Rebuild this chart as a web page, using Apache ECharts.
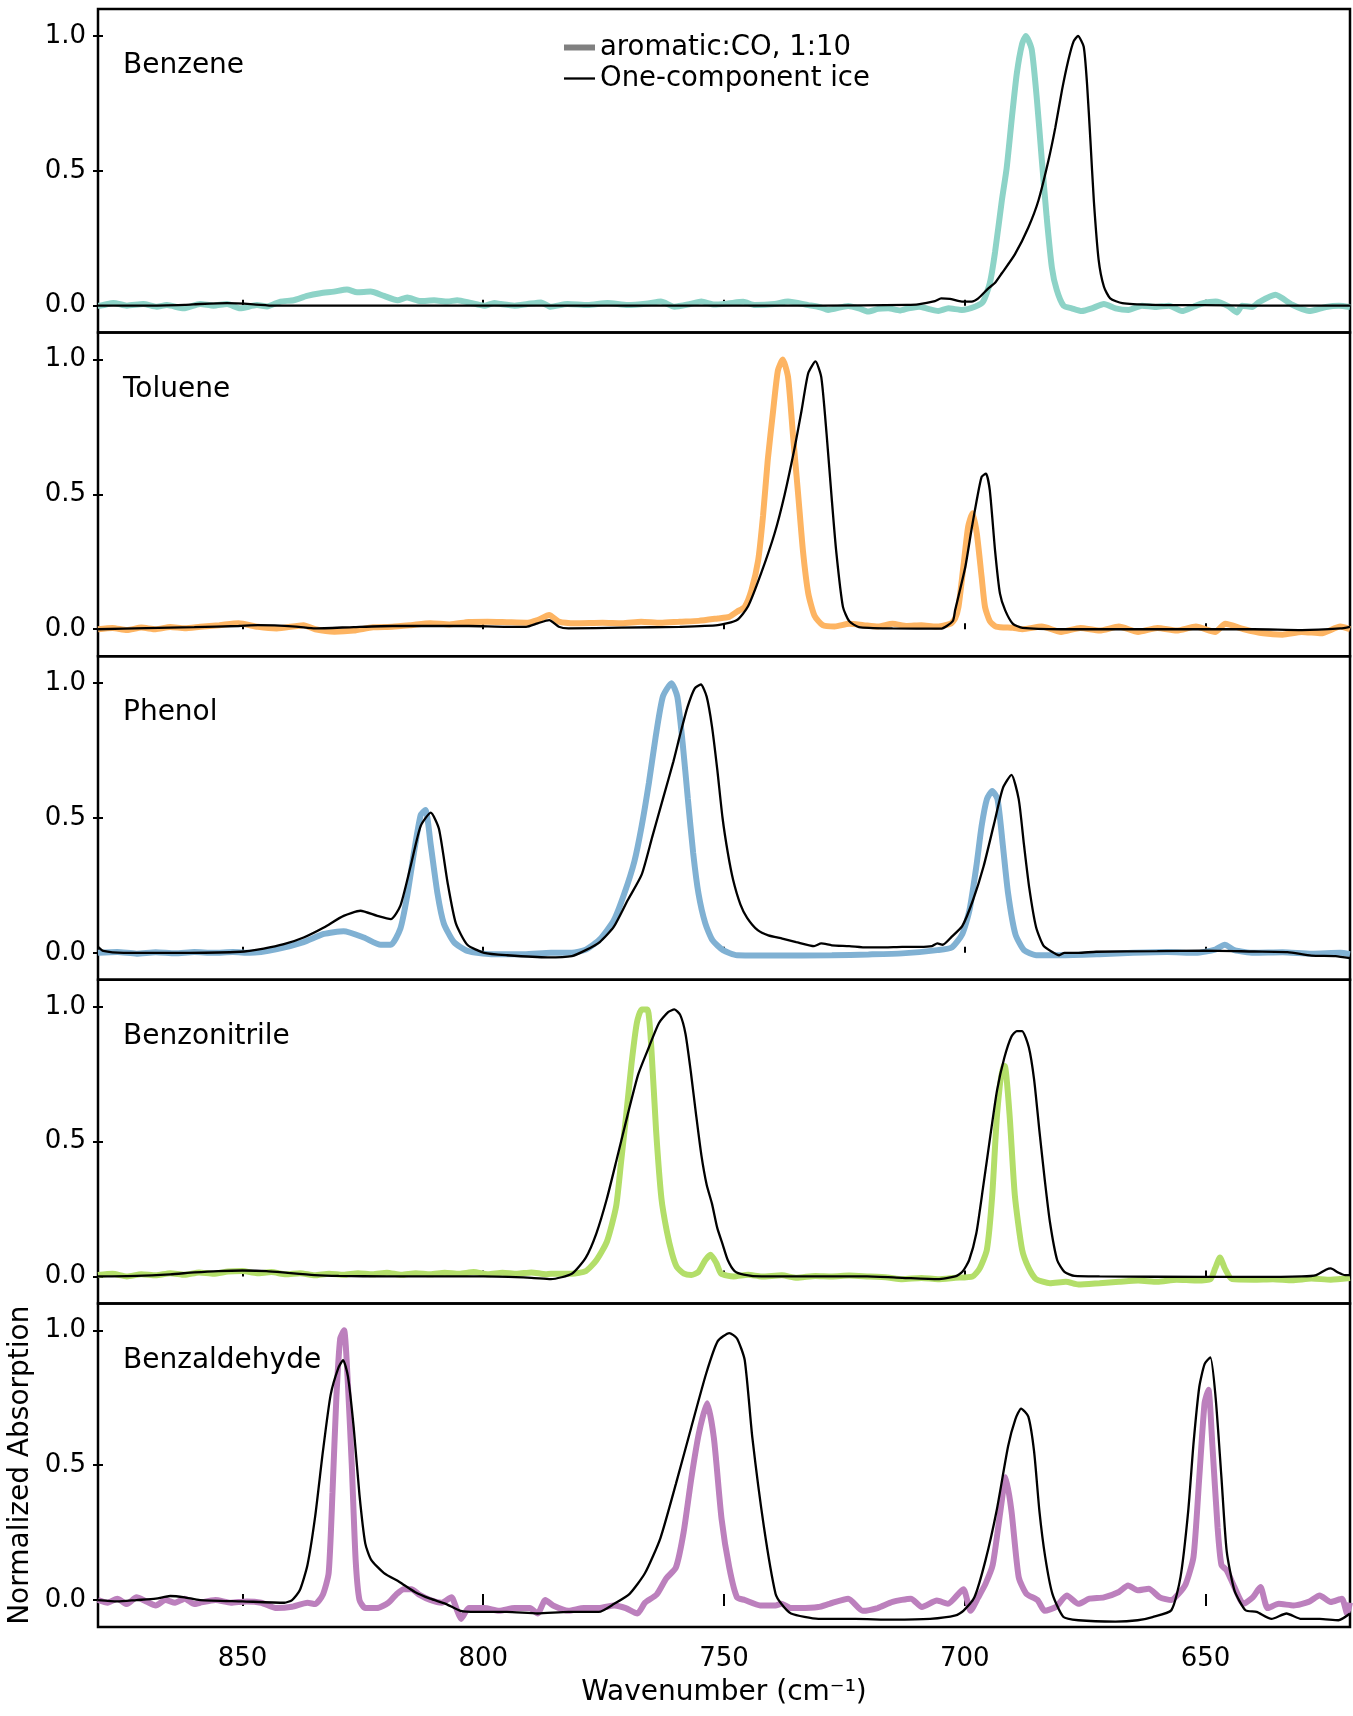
<!DOCTYPE html>
<html><head><meta charset="utf-8">
<script src="https://cdn.jsdelivr.net/npm/echarts@6/dist/echarts.min.js"></script>
<style>html,body{margin:0;padding:0;background:#fff}#c{width:1353px;height:1716px}</style>
</head><body><div id="c"></div>
<script>
const xTicks=[850,800,750,700,650];
const yTicks=[0,0.5,1.0];
const panelNames=['Benzene','Toluene','Phenol','Benzonitrile','Benzaldehyde'];
const mixColors=['#8dd3c7','#fdb462','#80b1d3','#b3de69','#bc80bd'];
const legendNames=['aromatic:CO, 1:10','One-component ice'];

const benzeneMix=[[880,0.0],[879.6,0.0],[876.8,0.01],[874,0.0],[870.6,0.006],[867.8,-0.004],[865.7,0.002],[862.2,-0.01],[858.8,0.006],[856,0.0],[853.2,0.006],[850.5,-0.01],[847,0.002],[844.9,-0.003],[842.1,0.015],[839.4,0.02],[836.6,0.036],[833.8,0.046],[831,0.052],[828.3,0.06],[826.2,0.05],[823.4,0.052],[820.6,0.036],[817.8,0.02],[815.8,0.03],[813,0.017],[810.2,0.02],[807.4,0.015],[805.4,0.02],[802.6,0.01],[799.8,0.0],[797.7,0.01],[796.4,0.006],[793.5,0.0],[790.8,0.006],[788,0.012],[786,-0.004],[782.5,0.006],[778.3,0.002],[774.2,0.01],[770,0.002],[765.8,0.008],[763.1,0.015],[760.3,-0.004],[757,0.006],[754.7,0.015],[752,0.004],[749.2,0.008],[746,0.014],[743.6,0.002],[739.5,0.006],[736.7,0.015],[732.5,0.002],[730,-0.006],[728.4,-0.016],[724.2,-0.001],[722,-0.01],[720.1,-0.022],[718,-0.012],[715.9,-0.01],[713.5,-0.018],[711.7,-0.01],[709.5,-0.004],[707.6,-0.012],[705.5,-0.02],[703.4,-0.01],[700.6,-0.016],[697.9,-0.004],[696.2,0.015],[694.8,0.083],[693.7,0.2],[692.3,0.39],[691.3,0.51],[690.2,0.7],[689.2,0.86],[688.1,0.97],[687.3,1.0],[686.1,0.95],[685,0.76],[684,0.54],[683,0.33],[681.9,0.14],[680.9,0.058],[679.5,0.0],[677.8,-0.01],[675.7,-0.02],[673.6,-0.01],[671.1,0.006],[668.7,-0.01],[666,-0.016],[663.2,0.0],[660.4,-0.005],[657.6,0.0],[654.9,-0.02],[652.5,-0.004],[650.7,0.008],[647.9,0.015],[645.2,-0.003],[643.5,-0.025],[642.4,0.0],[640.3,-0.005],[638.9,0.013],[635.5,0.04],[632,0.003],[628.5,-0.02],[625,-0.005],[622.3,0.0],[620,-0.005]];
const benzeneIce=[[880,0.0],[870,0.0],[862,0.003],[858.8,0.006],[853.2,0.009],[847.7,0.005],[843.5,0.0],[830,0.0],[800,0.0],[760,0.0],[730,0.0],[712,0.003],[709.7,0.005],[706.2,0.017],[704.9,0.027],[703.1,0.025],[700.6,0.015],[698.6,0.015],[697.2,0.027],[695.1,0.064],[693.7,0.085],[692.3,0.12],[689.6,0.19],[686.8,0.29],[684.7,0.39],[682.6,0.54],[681.2,0.66],[679.8,0.8],[678.5,0.91],[677.4,0.98],[676.5,1.0],[675.3,0.96],[674.6,0.82],[673.9,0.61],[673.2,0.39],[672.2,0.17],[671.1,0.07],[669.8,0.027],[667.3,0.009],[661.1,0.003],[650.7,0.002],[640.3,0.0],[630,0.0],[620,0.0]];

const tolueneMix=[[880,0.0],[877,0.005],[874,-0.003],[871,0.006],[868,0.0],[865,0.008],[862,0.004],[858.8,0.009],[854.8,0.015],[850.8,0.022],[846.8,0.009],[842.9,0.003],[837.3,0.015],[834.9,0.0],[830.9,-0.009],[826.9,-0.005],[822.9,0.007],[818.9,0.009],[815,0.015],[811,0.022],[807,0.018],[803,0.027],[799.1,0.028],[795.1,0.026],[791.1,0.024],[788.7,0.034],[786.3,0.053],[784.3,0.028],[780.7,0.022],[775.2,0.024],[771.2,0.022],[767.2,0.028],[763.2,0.024],[759.2,0.028],[755.3,0.031],[751.3,0.04],[748.9,0.046],[747.3,0.065],[745.7,0.083],[744.3,0.145],[742.9,0.256],[741.9,0.42],[740.9,0.63],[739.8,0.81],[738.8,0.96],[737.8,1.0],[736.7,0.935],[735.7,0.725],[734.6,0.5],[733.6,0.29],[732.5,0.133],[731.2,0.05],[729.5,0.015],[727,0.01],[724,0.02],[721,0.015],[718,0.01],[715,0.02],[712,0.012],[709,0.015],[706,0.01],[703,0.02],[702,0.04],[701.3,0.083],[700.3,0.23],[699.3,0.38],[698.4,0.43],[697.5,0.355],[696.5,0.194],[695.8,0.083],[694.8,0.03],[693.5,0.01],[690,0.005],[688,0.0],[684,0.01],[680,-0.01],[676,0.005],[672,-0.005],[668,0.01],[664,-0.01],[660,0.005],[656,-0.005],[652,0.01],[648,-0.01],[645.9,0.02],[642,0.0],[638,-0.015],[634,-0.02],[630,-0.01],[626,-0.015],[622,0.01],[620,0.0]];
const tolueneIce=[[880,0.0],[870,0.004],[860,0.008],[850.8,0.012],[846.8,0.015],[838.9,0.01],[834.9,0.003],[826.9,0.008],[818.9,0.012],[803,0.012],[795.1,0.009],[791.1,0.009],[788.7,0.022],[786.3,0.034],[784.3,0.009],[782.3,0.003],[771.2,0.006],[759.2,0.009],[751.3,0.015],[747.3,0.034],[745,0.085],[742.3,0.207],[739.5,0.355],[737.4,0.5],[735.3,0.676],[733.9,0.81],[732.5,0.95],[731,0.993],[729.8,0.935],[728.7,0.725],[727.7,0.5],[726.7,0.29],[725.3,0.083],[724,0.03],[722,0.008],[715,0.003],[705,0.002],[702.5,0.03],[702,0.071],[699.9,0.23],[698.6,0.37],[697.5,0.48],[696.5,0.565],[695.6,0.577],[694.8,0.515],[693.7,0.29],[692.7,0.133],[691.6,0.07],[690,0.02],[688,0.005],[680,0.0],[660,0.0],[640,0.0],[630,-0.003],[622,0.003],[620,0.009]];

const phenolMix=[[880,0.0],[876,0.003],[872,-0.003],[868,0.002],[864,-0.002],[860,0.003],[856,0.0],[852,0.003],[848.4,0.0],[842.8,0.014],[837.3,0.04],[833.1,0.07],[829,0.08],[824.8,0.057],[821.3,0.03],[819.2,0.03],[817.2,0.09],[815.8,0.21],[814.4,0.37],[813,0.51],[812,0.53],[810.9,0.4],[809.5,0.22],[808.2,0.11],[806.1,0.04],[803.3,0.007],[798.4,-0.005],[791.5,-0.005],[785.95,0.0],[781.6,0.0],[778.7,0.012],[775.8,0.05],[772.9,0.12],[770.7,0.22],[768.6,0.34],[767.1,0.47],[765.6,0.63],[764.2,0.8],[762.7,0.95],[760.9,1.0],[759.7,0.95],[758.6,0.78],[757.5,0.57],[756.4,0.37],[755.3,0.22],[753.9,0.11],[752.4,0.047],[750.2,0.01],[747.3,-0.009],[740,-0.01],[727.6,-0.009],[720,-0.006],[713,-0.002],[705.7,0.01],[702.7,0.02],[700.5,0.07],[699,0.16],[697.6,0.32],[696.5,0.47],[695.4,0.57],[694.3,0.6],[693.2,0.57],[692.1,0.4],[691,0.22],[689.5,0.07],[687.7,0.01],[685.2,-0.009],[680.1,-0.009],[672,-0.005],[665,0.0],[658,0.003],[652,0.0],[648,0.012],[646,0.03],[644,0.01],[640,0.0],[634,0.002],[628,-0.003],[622,0.0],[620,-0.005]];
const phenolIce=[[880,0.022],[878.9,0.007],[874.7,0.0],[860.9,0.0],[850.5,0.004],[845.6,0.016],[841.4,0.032],[837.3,0.057],[833.1,0.094],[829,0.137],[825.5,0.156],[822,0.137],[819.2,0.125],[817.2,0.175],[815.1,0.32],[813,0.47],[810.9,0.52],[809.2,0.46],[807.4,0.26],[805.7,0.11],[803.3,0.03],[799.8,0.0],[795,-0.009],[786.6,-0.017],[781.6,-0.012],[778.7,0.01],[775.8,0.04],[772.9,0.096],[770,0.195],[767.1,0.29],[764.9,0.43],[762.7,0.57],[760.5,0.71],[759.1,0.81],[757.6,0.91],[756.1,0.98],[754.8,0.995],[753.6,0.95],[752.5,0.84],[751.4,0.68],[750.3,0.5],[749.2,0.37],[748.1,0.27],[746.6,0.18],[745.2,0.13],[743,0.084],[740.8,0.065],[737.9,0.053],[735,0.04],[731.3,0.025],[729.8,0.035],[727.6,0.028],[724,0.025],[720.3,0.02],[716.6,0.02],[713,0.022],[709.3,0.022],[706.8,0.025],[705.7,0.035],[704.6,0.03],[702.7,0.06],[700.5,0.1],[698.3,0.195],[696.1,0.32],[693.9,0.48],[692.1,0.61],[690.3,0.66],[688.8,0.57],[687.7,0.4],[686.6,0.24],[685.2,0.096],[683.7,0.028],[681.9,0.004],[680.4,-0.009],[679.3,0.0],[676.4,0.0],[672.7,0.004],[660,0.006],[650,0.008],[640,0.005],[633,0.003],[628,-0.01],[623,-0.012],[620,-0.02]];

const benzonitrileMix=[[880,0.005],[877,0.01],[874,0.0],[871,0.008],[868,0.004],[865,0.012],[862,0.006],[859,0.015],[856,0.01],[853,0.018],[850,0.02],[847,0.012],[844,0.016],[841,0.008],[838,0.012],[835,0.004],[832,0.01],[829,0.006],[826,0.012],[823,0.008],[820,0.014],[817,0.006],[814,0.012],[811,0.008],[808,0.014],[805,0.01],[802,0.016],[799,0.008],[796,0.014],[793,0.01],[790,0.015],[787,0.008],[785.95,0.01],[781.6,0.01],[778.7,0.02],[776.5,0.06],[774.3,0.13],[772.4,0.26],[771.4,0.42],[770.3,0.6],[769.2,0.79],[768.1,0.94],[767.1,0.99],[765.9,0.99],[765.1,0.85],[764.1,0.54],[763,0.29],[761.9,0.17],[760.8,0.085],[759.8,0.035],[758.3,0.01],[756.8,0.005],[755.3,0.017],[753.9,0.06],[752.8,0.08],[751.6,0.05],[750.6,0.01],[748,0.0],[745,0.006],[742.2,0.0],[738,0.004],[734.9,-0.005],[731,0.002],[727.6,0.0],[724,0.003],[720.3,0.0],[716,-0.004],[713,-0.01],[709,-0.006],[705.6,-0.01],[702,-0.005],[698.4,0.0],[696.9,0.03],[695.4,0.1],[694.3,0.3],[693.3,0.6],[692.1,0.78],[691.7,0.78],[690.7,0.6],[689.6,0.3],[688.1,0.1],[686.7,0.03],[685.2,-0.01],[682.3,-0.025],[679,-0.02],[676.4,-0.03],[672,-0.025],[668,-0.02],[664,-0.015],[660,-0.02],[656,-0.012],[652,-0.015],[649,-0.01],[648,0.03],[647,0.07],[646,0.03],[644.5,-0.01],[640,-0.012],[636,-0.01],[632,-0.014],[628,-0.008],[624,-0.012],[620,-0.006]];
const benzonitrileIce=[[880,0.0],[872,0.002],[865,0.008],[860,0.015],[855,0.02],[850,0.022],[845,0.02],[840,0.012],[835,0.005],[830,0.002],[820,0.0],[800,0.0],[790,-0.005],[785.95,-0.01],[781.6,0.01],[778.7,0.07],[776.5,0.16],[774.3,0.29],[772.2,0.44],[770,0.6],[767.8,0.75],[765.6,0.85],[763.5,0.94],[761.6,0.98],[760.3,0.99],[759.1,0.97],[758,0.9],[756.9,0.76],[755.8,0.6],[754.7,0.45],[753.6,0.34],[752.5,0.27],[751.4,0.18],[750.3,0.12],[749.2,0.06],[747.8,0.02],[745.9,0.007],[742.2,0.0],[720.3,0.0],[713,-0.005],[705.6,-0.01],[702,0.0],[700.5,0.017],[699.1,0.06],[697.6,0.16],[696.2,0.33],[694.7,0.52],[693.3,0.69],[691.8,0.81],[690.3,0.89],[689.2,0.91],[688.1,0.91],[686.7,0.85],[685.6,0.73],[684.5,0.54],[683.4,0.36],[682.3,0.2],[680.8,0.06],[679.3,0.017],[677.2,0.002],[672,0.0],[650,-0.002],[640,-0.002],[630,0.0],[627,0.005],[625,0.025],[624,0.03],[622.5,0.015],[621,0.005],[620,0.005]];

const benzaldehydeMix=[[880,0.0],[878,-0.01],[876,0.005],[874,-0.015],[872,0.01],[870,-0.005],[868,-0.02],[866,0.0],[864,-0.01],[862,0.005],[860,-0.015],[858.8,-0.01],[855.6,0.0],[852.4,-0.01],[849.2,-0.005],[846.1,-0.01],[842.9,-0.03],[839.7,-0.025],[836.5,-0.01],[834.9,-0.015],[833.3,0.02],[832.1,0.1],[831.3,0.4],[830.5,0.75],[829.7,0.97],[828.9,1.0],[828.1,0.8],[827.3,0.5],[826.5,0.15],[825.7,0.0],[824.5,-0.03],[822.1,-0.03],[819.7,-0.01],[818.1,0.02],[816.5,0.04],[814.9,0.04],[813.3,0.02],[811,0.0],[808.6,-0.01],[806.6,0.01],[805.4,-0.04],[804.6,-0.07],[803,-0.03],[799.8,-0.03],[796.7,-0.04],[793.5,-0.03],[790.3,-0.03],[788.7,-0.05],[787.1,0.0],[785.5,-0.02],[782.3,-0.04],[779.1,-0.03],[776,-0.03],[772.8,-0.02],[770.4,-0.03],[768,-0.05],[766.4,-0.01],[764,0.02],[762,0.08],[760,0.12],[758.4,0.25],[756.8,0.45],[755.2,0.62],[753.5,0.73],[752.1,0.6],[750.5,0.3],[748.9,0.12],[747.3,0.01],[745.7,0.0],[742.5,-0.02],[739.3,-0.02],[738.1,-0.014],[736.1,-0.03],[734.2,-0.03],[730.4,-0.026],[728.1,-0.014],[724.2,0.005],[721.2,-0.04],[718.1,-0.03],[715,-0.007],[711.2,0.005],[708.9,-0.026],[705.8,-0.002],[703.5,-0.014],[700.3,0.04],[698.8,-0.04],[697.2,0.01],[695.7,0.06],[694.2,0.13],[692.6,0.33],[691.5,0.455],[690.3,0.33],[688.8,0.085],[687.2,0.023],[684.9,0.0],[683.4,-0.04],[681.1,-0.026],[678.8,0.017],[676.4,-0.014],[674.1,0.005],[671.1,0.01],[668,0.03],[666.1,0.054],[664.1,0.036],[661.8,0.042],[659.5,0.01],[657.1,0.0],[655.6,0.023],[654.1,0.06],[652.5,0.16],[651.3,0.455],[650.2,0.73],[649.4,0.78],[648.6,0.58],[647.5,0.27],[646.7,0.13],[645.6,0.11],[644,0.048],[642.1,-0.014],[640.2,0.01],[638.6,0.048],[637.1,-0.03],[634.8,-0.014],[631.7,-0.02],[628.6,-0.007],[626.3,0.017],[624,-0.007],[621.7,0.005],[620.6,-0.05],[620,-0.01]];
const benzaldehydeIce=[[880,0.0],[876,-0.005],[872,0.0],[868,0.005],[865,0.015],[862,0.01],[858.8,0.0],[850,-0.005],[841.3,-0.01],[839.7,0.0],[838.1,0.036],[836.5,0.13],[834.9,0.31],[833.3,0.55],[831.7,0.76],[830.1,0.86],[829.1,0.89],[828.1,0.83],[826.9,0.64],[825.7,0.39],[824.5,0.21],[823.3,0.15],[820.6,0.1],[817.4,0.067],[814.2,0.03],[811,0.005],[807.8,-0.014],[804.7,-0.04],[801.5,-0.044],[795.1,-0.044],[788.7,-0.05],[782.3,-0.044],[776,-0.044],[772.8,-0.014],[769.6,0.023],[766.4,0.1],[763.2,0.23],[760,0.43],[756.8,0.64],[753.7,0.84],[751.3,0.96],[748.9,0.99],[747.3,0.97],[745.7,0.89],[744.1,0.6],[741.7,0.27],[739.3,0.023],[738.1,-0.014],[736.1,-0.05],[730.4,-0.07],[722.7,-0.07],[715,-0.073],[707.2,-0.07],[701.9,-0.057],[700.3,-0.04],[698,0.01],[695.7,0.147],[693.4,0.33],[691,0.57],[689.5,0.67],[688.3,0.71],[686.8,0.68],[685.6,0.55],[684.5,0.33],[683.3,0.16],[681.8,0.023],[679.5,-0.063],[676.4,-0.075],[668.7,-0.08],[664.1,-0.075],[661,-0.063],[657.1,-0.038],[655.2,0.085],[653.6,0.33],[652.5,0.58],[651.3,0.79],[650.2,0.875],[649,0.9],[647.9,0.75],[646.7,0.455],[645.6,0.18],[644,0.036],[641.7,-0.038],[639.4,-0.044],[636.3,-0.07],[633.2,-0.05],[630.1,-0.07],[626.3,-0.07],[622.4,-0.075],[620,-0.05]];

const mixData=[benzeneMix,tolueneMix,phenolMix,benzonitrileMix,benzaldehydeMix];
const iceData=[benzeneIce,tolueneIce,phenolIce,benzonitrileIce,benzaldehydeIce];

const chart=echarts.init(document.getElementById('c'),null,{renderer:'canvas',width:1353,height:1716});
const L=98,W=1252,T=9,H=323.6,FONT='DejaVu Sans';
const grids=[],xAxes=[],yAxes=[],series=[],graphics=[];
const tickStyle={color:'#000',width:2};
for(let i=0;i<5;i++){
  const last=i===4;
  grids.push({left:L,top:T+i*H,width:W,height:H,show:true,borderColor:'#000',borderWidth:2.5,backgroundColor:'transparent',containLabel:false});
  xAxes.push({type:'value',gridIndex:i,position:'bottom',min:620,max:880,inverse:true,
    axisLine:{show:false},splitLine:{show:false},
    axisTick:{show:true,inside:!last,length:6,lineStyle:tickStyle,customValues:xTicks},
    axisLabel:{show:last,customValues:xTicks,margin:19,color:'#000',fontSize:26,fontFamily:FONT}});
  yAxes.push({type:'value',gridIndex:i,position:'left',min:-0.1,max:1.1,
    axisLine:{show:false},splitLine:{show:false},
    axisTick:{show:true,inside:false,length:5,lineStyle:tickStyle,customValues:yTicks},
    axisLabel:{show:true,customValues:yTicks,formatter:v=>v.toFixed(1),margin:12,padding:[7,0,0,0],color:'#000',fontSize:26,fontFamily:FONT}});
}
for(let i=0;i<5;i++){
  yAxes.push({type:'value',gridIndex:i,position:'left',offset:0,min:-0.1,max:1.1,
    axisLine:{show:false},splitLine:{show:false},
    axisTick:{show:true,inside:true,length:5,lineStyle:tickStyle,customValues:yTicks},
    axisLabel:{show:false}});
}
xAxes.push({type:'value',gridIndex:4,position:'bottom',offset:0,min:620,max:880,inverse:true,
  axisLine:{show:false},splitLine:{show:false},
  axisTick:{show:true,inside:true,length:6,lineStyle:tickStyle,customValues:xTicks},
  axisLabel:{show:false}});

for(let i=0;i<5;i++){
  series.push({type:'line',name:panelNames[i]+' mix',xAxisIndex:i,yAxisIndex:i,data:mixData[i],
    symbol:'none',smooth:0.2,z:2,lineStyle:{color:mixColors[i],width:6},itemStyle:{color:mixColors[i]},silent:true});
  series.push({type:'line',name:panelNames[i]+' ice',xAxisIndex:i,yAxisIndex:i,data:iceData[i],
    symbol:'none',smooth:0.2,z:3,lineStyle:{color:'#000',width:2.3},itemStyle:{color:'#000'},silent:true});
  graphics.push({type:'text',x:123,y:66+i*H,style:{text:panelNames[i],fontSize:28,fontFamily:FONT,fill:'#000',verticalAlign:'middle',align:'left'}});
}
series.push({type:'line',name:legendNames[0],xAxisIndex:0,yAxisIndex:0,data:[],symbol:'none',lineStyle:{color:'#808080',width:6},itemStyle:{color:'#808080'}});
series.push({type:'line',name:legendNames[1],xAxisIndex:0,yAxisIndex:0,data:[],symbol:'none',lineStyle:{color:'#000',width:2.3},itemStyle:{color:'#000'}});

graphics.push({type:'text',x:724,y:1693,style:{text:'Wavenumber (cm⁻¹)',fontSize:28,fontFamily:FONT,fill:'#000',align:'center',verticalAlign:'middle'}});
graphics.push({type:'text',x:21,y:T+4*H+H/2,rotation:Math.PI/2,style:{text:'Normalized Absorption',fontSize:28,fontFamily:FONT,fill:'#000',align:'center',verticalAlign:'middle'}});

chart.setOption({
  animation:false,
  backgroundColor:'#fff',
  grid:grids,xAxis:xAxes,yAxis:yAxes,series:series,graphic:graphics,
  legend:{orient:'vertical',left:561,top:32,padding:0,itemGap:0,itemWidth:31,itemHeight:1,selectedMode:false,
    textStyle:{fontSize:27.5,fontFamily:FONT,color:'#000',lineHeight:31},
    data:[{name:legendNames[0],itemStyle:{opacity:0},lineStyle:{width:6,color:'#808080'}},
          {name:legendNames[1],itemStyle:{opacity:0},lineStyle:{width:2.3,color:'#000'}}]}
});
</script></body></html>
